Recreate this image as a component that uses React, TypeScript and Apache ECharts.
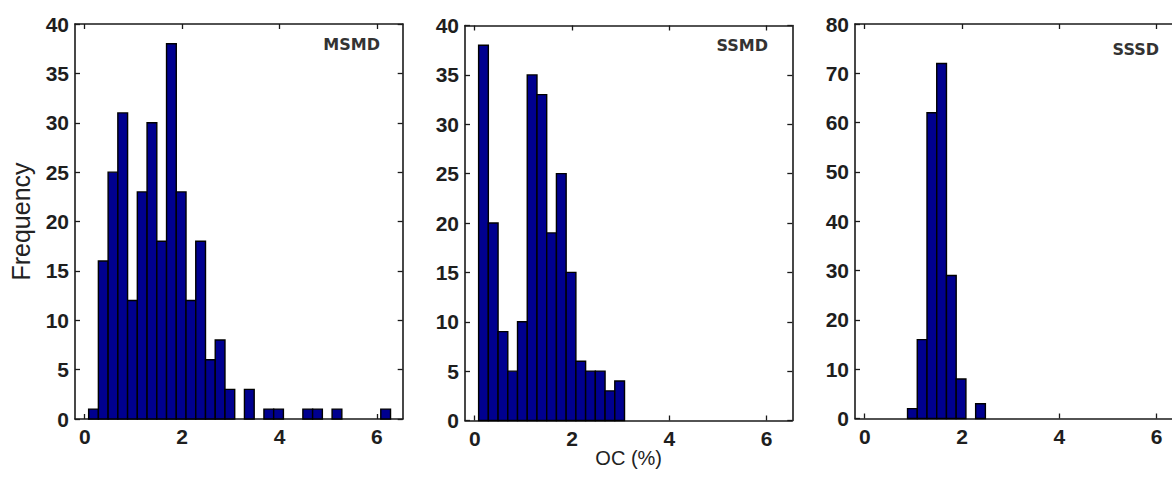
import React, { useEffect, useRef } from 'react';
import * as echarts from 'echarts';

// ---- data ----
const panelNames = ['MSMD', 'SSMD', 'SSSD'];
const binWidth = 0.2;
const msmdStart = 0.08;
const msmdCounts = [1, 16, 25, 31, 12, 23, 30, 18, 38, 23, 12, 18, 6, 8, 3, 0, 3, 0, 1, 1, 0, 0, 1, 1, 0, 1, 0, 0, 0, 0, 1];
const ssmdStart = 0.08;
const ssmdCounts = [38, 20, 9, 5, 10, 35, 33, 19, 25, 15, 6, 5, 5, 3, 4];
const sssdStart = 0.88;
const sssdCounts = [2, 16, 62, 72, 29, 8, 0, 3];
const xTicks = [0, 2, 4, 6];
const xMin = -0.2;
const xMax = 6.53;
const yMaxes = [40, 40, 80];
const ySteps = [5, 5, 10];
const xAxisName = 'OC (%)';
const yAxisName = 'Frequency';

const starts = [msmdStart, ssmdStart, sssdStart];
const counts = [msmdCounts, ssmdCounts, sssdCounts];

// ---- layout / style ----
const grids = [
  { left: 75, top: 24, width: 327.7, height: 395 },
  { left: 465, top: 25.5, width: 327.3, height: 395 },
  { left: 855, top: 24, width: 327.4, height: 394.5 },
];
const titlePos = [
  { x: 380, y: 44 },
  { x: 768, y: 45 },
  { x: 1159, y: 49 },
];
const axisColor = '#1a1a1a';
const labelFont = { fontFamily: '"Liberation Sans", Arial, sans-serif', fontWeight: 'bold' as const, fontSize: 21, color: '#1e1e1e' };

export default function App() {
  const ref = useRef<HTMLDivElement>(null);
  useEffect(() => {
    if (!ref.current) return;
    const chart = echarts.init(ref.current, undefined, { renderer: 'svg' });
    const xAxes: any[] = [];
    const yAxes: any[] = [];
    const series: any[] = [];
    grids.forEach((g, i) => {
      const common = {
        gridIndex: i,
        type: 'value',
        min: xMin,
        max: xMax,
        axisLine: { show: true, onZero: false, lineStyle: { color: axisColor, width: 1.6 } },
        axisTick: { show: true, inside: true, length: 5, lineStyle: { color: axisColor, width: 1.3 }, customValues: xTicks },
        splitLine: { show: false },
      };
      xAxes.push({
        ...common,
        position: 'bottom',
        axisLabel: { ...labelFont, margin: 7, customValues: xTicks },
        name: i === 1 ? xAxisName : '',
        nameLocation: 'middle',
        nameGap: 27,
        nameMoveOverlap: false,
        nameTextStyle: { fontFamily: '"Liberation Sans", Arial, sans-serif', fontSize: 20, color: '#222', padding: [0, 0, 0, 0] },
      });
      xAxes.push({ ...common, position: 'top', axisLabel: { show: false } });
      const yCommon = {
        gridIndex: i,
        type: 'value',
        min: 0,
        max: yMaxes[i],
        interval: ySteps[i],
        axisLine: { show: true, onZero: false, lineStyle: { color: axisColor, width: 1.6 } },
        axisTick: { show: true, inside: true, length: 5, lineStyle: { color: axisColor, width: 1.3 } },
        splitLine: { show: false },
      };
      yAxes.push({
        ...yCommon,
        position: 'left',
        axisLabel: { ...labelFont, margin: 6 },
        name: i === 0 ? yAxisName : '',
        nameLocation: 'middle',
        nameGap: 42,
        nameTextStyle: { fontFamily: '"Liberation Sans", Arial, sans-serif', fontSize: 25, color: '#222' },
      });
      yAxes.push({ ...yCommon, position: 'right', axisLabel: { show: false } });
      const data = counts[i].map((c, k) => [starts[i] + k * binWidth, starts[i] + (k + 1) * binWidth, c]);
      series.push({
        type: 'custom',
        xAxisIndex: i * 2,
        yAxisIndex: i * 2,
        data,
        encode: { x: [0, 1], y: 2 },
        renderItem: (params: any, api: any) => {
          const x0 = api.value(0);
          const x1 = api.value(1);
          const v = api.value(2);
          if (!(v > 0)) return null;
          const p0 = api.coord([x0, 0]);
          const p1 = api.coord([x1, v]);
          return {
            type: 'rect',
            shape: { x: p0[0], y: p1[1], width: p1[0] - p0[0], height: p0[1] - p1[1] },
            style: { fill: '#00008f', stroke: '#000', lineWidth: 1.4 },
          };
        },
      });
    });
    chart.setOption({
      animation: false,
      backgroundColor: '#fff',
      grid: grids.map((g) => ({ ...g, containLabel: false })),
      xAxis: xAxes,
      yAxis: yAxes,
      series,
      graphic: panelNames.map((n, i) => ({
        type: 'text',
        x: titlePos[i].x,
        y: titlePos[i].y,
        style: {
          text: n,
          textAlign: 'right',
          textVerticalAlign: 'middle',
          font: 'bold 16px "DejaVu Sans", sans-serif',
          fill: '#333',
        },
      })),
    });
    return () => chart.dispose();
  }, []);
  return (
    <div style={{ position: 'fixed', left: 0, top: 0, width: 1172, height: 477, overflow: 'hidden', background: '#fff' }}>
      <div ref={ref} style={{ width: 1200, height: 477 }} />
    </div>
  );
}
